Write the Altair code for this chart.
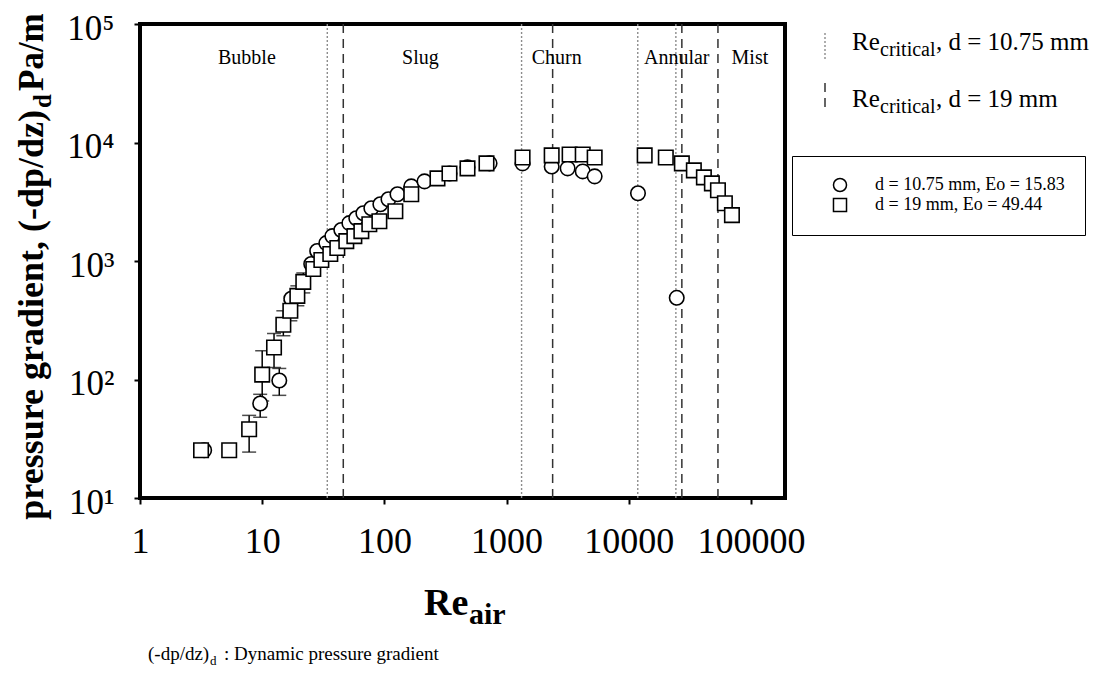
import altair as alt
import pandas as pd

FONT = "Liberation Serif"

# ---------------- data ----------------
series_names = ["d = 10.75 mm, Eo = 15.83", "d = 19 mm, Eo = 49.44"]

circle_re = [3.35, 9.63, 13.8, 17.3, 25.2, 28.2, 33.5, 37.5, 44.4, 51.7,
             58.9, 67.3, 78.2, 92.7, 108, 128, 166, 213, 341, 479,
             726, 1352, 2340, 3160, 4200, 5260, 11900, 24700]
circle_dpdz = [25.3, 62.8, 98, 480, 944, 1213, 1416, 1622, 1825, 2086,
               2297, 2530, 2787, 3012, 3319, 3660, 4265, 4700, 5480, 6170,
               6670, 6670, 6280, 6050, 5700, 5180, 3727, 489]

square_re = [3.16, 5.37, 7.82, 10.0, 12.5, 14.9, 17.0, 19.4, 21.7, 26.2,
             30.5, 36.1, 41.2, 48.8, 56.8, 64.8, 75.3, 91.0, 123, 166,
             272, 341, 479, 685, 1352, 2340, 3280, 4200, 5260, 13500,
             20100, 27200, 34100, 41200, 47900, 53700, 61200, 69900]
square_dpdz = [25.3, 25.3, 38, 110, 186, 290, 380, 508, 667, 857,
               1019, 1146, 1286, 1472, 1622, 1786, 2045, 2167, 2630, 3660,
               4980, 5480, 6050, 6670, 7480, 7780, 7930, 7930, 7480, 7780,
               7480, 6670, 5820, 5080, 4520, 3950, 3070, 2440]

err_re = [9.63, 13.8, 7.82, 10.0, 12.5, 14.9, 17.0, 19.4, 21.7]
err_lo = [48, 73.5, 24.4, 66, 126, 234, 313, 419, 538]
err_hi = [75, 124, 49.8, 175, 244, 380, 461, 617, 793]

crit_re_d1075 = [34.1, 1327, 11850, 24300]
crit_re_d19 = [46.1, 2383, 27200, 53700]

regime_names = ["Bubble", "Slug", "Churn", "Annular", "Mist"]
regime_label_re = [7.5, 197, 2570, 24700, 98100]

x_ticks = [1, 10, 100, 1000, 10000, 100000]
y_ticks = [10, 100, 1000, 10000, 100000]

# ---------------- tables ----------------
pts = pd.DataFrame({
    "re": circle_re + square_re,
    "dpdz": circle_dpdz + square_dpdz,
    "series": [series_names[0]] * len(circle_re) + [series_names[1]] * len(square_re),
})
err = pd.DataFrame({"re": err_re, "lo": err_lo, "hi": err_hi})
regimes = pd.DataFrame({"name": regime_names, "re": regime_label_re})

xs = alt.Scale(type="log", domain=[1, 190000], nice=False)
ys = alt.Scale(type="log", domain=[10, 100000], nice=False)

xaxis = alt.Axis(values=x_ticks, format="d", title=None, grid=False, domain=False,
                 tickSize=6, tickWidth=2, tickColor="black",
                 labelFont=FONT, labelFontSize=36, labelColor="black",
                 labelPadding=20, labelOverlap=False, labelFlush=False)
yaxis = alt.Axis(values=y_ticks, title=None, grid=False, domain=False,
                 labelExpr="'10' + ['⁰','¹','²','³','⁴','⁵'][round(log(datum.value)/LN10)]",
                 tickSize=6, tickWidth=2, tickColor="black",
                 labelFont=FONT, labelFontSize=35, labelColor="black",
                 labelPadding=20, labelOffset=4, labelOverlap=False, labelFlush=False)

X = alt.X("re:Q", scale=xs, axis=xaxis)

rule_small = alt.Chart(pd.DataFrame({"re": crit_re_d1075})).mark_rule(
    color="#8c8c8c", strokeWidth=1.4, strokeDash=[2, 2]).encode(x=X)
rule_big = alt.Chart(pd.DataFrame({"re": crit_re_d19})).mark_rule(
    color="#333333", strokeWidth=1.5, strokeDash=[9, 6]).encode(x=X)

err_bar = alt.Chart(err).mark_rule(color="black", strokeWidth=1.5).encode(
    x=X, y=alt.Y("lo:Q", scale=ys, axis=yaxis), y2="hi:Q")
cap_lo = alt.Chart(err).mark_tick(color="black", orient="horizontal", size=14, thickness=1.5).encode(
    x=X, y=alt.Y("lo:Q", scale=ys, axis=yaxis))
cap_hi = alt.Chart(err).mark_tick(color="black", orient="horizontal", size=14, thickness=1.5).encode(
    x=X, y=alt.Y("hi:Q", scale=ys, axis=yaxis))

leg = alt.Legend(title=None, orient="none", legendX=652, legendY=132,
                 direction="vertical", strokeColor="black",
                 fillColor="white", padding=20,
                 labelFont=FONT, labelFontSize=18, labelColor="black",
                 labelOffset=26, symbolOffset=19, labelLimit=400,
                 symbolFillColor="white", symbolStrokeColor="black",
                 symbolStrokeWidth=1.5, symbolSize=170, rowPadding=0)

points = alt.Chart(pts).mark_point(filled=False, fill="white", stroke="black",
                                   strokeWidth=1.6, opacity=1, size=210).encode(
    x=X,
    y=alt.Y("dpdz:Q", scale=ys, axis=yaxis),
    color=alt.Color("series:N",
                    scale=alt.Scale(domain=series_names, range=["black", "black"]),
                    legend=leg),
    shape=alt.Shape("series:N",
                    scale=alt.Scale(domain=series_names, range=["circle", "square"]),
                    legend=leg),
)

regime_text = alt.Chart(regimes).mark_text(font=FONT, fontSize=20, color="black",
                                           baseline="middle").encode(
    x=X, y=alt.value(34), text="name:N")

one = pd.DataFrame({"k": [0]})


def txt(s, x, y, size, bold=False, align="left", baseline="alphabetic", angle=0):
    kw = dict(text=s, font=FONT, fontSize=size, color="black", align=align,
              baseline=baseline, fontWeight="bold" if bold else "normal")
    if angle:
        kw["angle"] = angle
    return alt.Chart(one).mark_text(**kw).encode(x=alt.value(x), y=alt.value(y))


def vline(x, y1, y2, dash, color, width):
    return alt.Chart(one).mark_rule(strokeDash=dash, color=color, strokeWidth=width).encode(
        x=alt.value(x), y=alt.value(y1), y2=alt.value(y2))


annotations = [
    # y-axis title (rotated, with subscript d)
    txt("pressure gradient, (-dp/dz)", -108, 86, 36, bold=True, align="right",
        baseline="middle", angle=270),
    txt("d", -97, 84, 25, bold=True, align="left", baseline="middle", angle=270),
    txt("Pa/m", -108, 67, 35, bold=True, align="left", baseline="middle", angle=270),
    # x-axis title Re_air
    txt("Re", 284, 591, 38, bold=True),
    txt("air", 329, 600, 30, bold=True),
    # line-style legend
    vline(685, 9, 36, [2, 2], "#8c8c8c", 1.4),
    txt("Re", 712, 26, 25),
    txt("critical", 740, 32, 20),
    txt(", d = 10.75 mm", 796, 26, 25),
    vline(685, 59, 86, [9, 6], "#333333", 1.5),
    txt("Re", 712, 83, 25),
    txt("critical", 740, 89, 20),
    txt(", d = 19 mm", 796, 83, 25),
    # bottom note
    txt("(-dp/dz)", 8, 636, 19),
    txt("d", 70, 641, 13),
    txt(": Dynamic pressure gradient", 84, 636, 19),
]

chart = alt.layer(
    rule_small, rule_big, err_bar, cap_lo, cap_hi, points, regime_text, *annotations
).properties(
    width=645, height=474,
    autosize=alt.AutoSizeParams(type="none"),
    padding={"left": 132, "top": 16, "right": 305, "bottom": 175},
).configure_view(stroke="black", strokeWidth=4)

chart.save("out.html", embed_options={"renderer": "svg", "actions": False})
